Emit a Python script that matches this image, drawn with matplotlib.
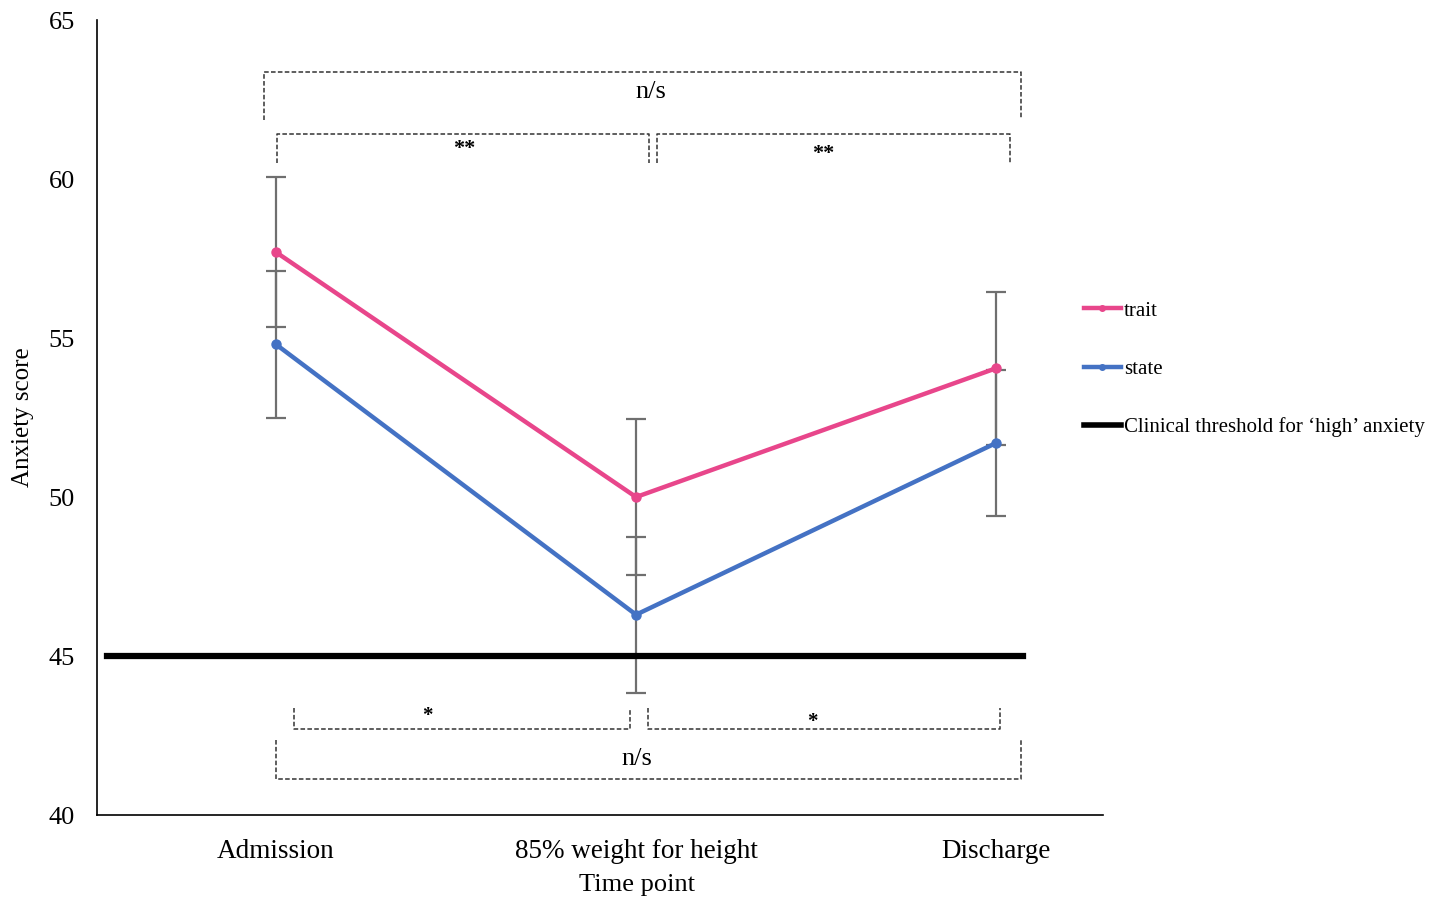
import matplotlib
matplotlib.use("Agg")
import matplotlib.pyplot as plt
from matplotlib.lines import Line2D

plt.rcParams['font.family'] = ['Liberation Serif', 'DejaVu Serif']

# data
time_points = ["Admission", "85% weight for height", "Discharge"]
trait = [57.7, 50.0, 54.05]
trait_err = [2.35, 2.45, 2.4]
state = [54.8, 46.3, 51.7]
state_err = [2.3, 2.45, 2.3]
threshold = 45
y_ticks = [40, 45, 50, 55, 60, 65]

pink = '#E8468B'
blue = '#4472C4'
dash = (0, (3, 1.5))

fig = plt.figure(figsize=(14.4, 8.99), dpi=100)
ax = fig.add_axes([0.0674, 0.0934, 0.6986, 0.8843])

x = list(range(len(time_points)))

ax.errorbar(x, trait, yerr=trait_err, fmt='none', ecolor='#6f6f6f', elinewidth=1.6, capsize=7, capthick=1.6, zorder=2)
ax.errorbar(x, state, yerr=state_err, fmt='none', ecolor='#6f6f6f', elinewidth=1.6, capsize=7, capthick=1.6, zorder=2)
ax.plot(x, trait, color=pink, lw=3.2, marker='o', ms=6.5, zorder=3, label='trait')
ax.plot(x, state, color=blue, lw=3.2, marker='o', ms=6.5, zorder=3, label='state')
ax.plot([-0.469, 2.075], [threshold, threshold], color='black', lw=4.5, zorder=4)

# significance brackets
def bracket(x0, x1, ytop, yl, yr):
    ax.plot([x0, x0, x1, x1], [yl, ytop, ytop, yr], color='#333333', lw=1.1, ls=dash, zorder=1)

bracket(-0.033, 2.07, 63.36, 61.86, 61.92)
bracket(0.003, 1.036, 61.42, 60.5, 60.5)
bracket(1.058, 2.039, 61.42, 60.5, 60.5)
ax.text(1.042, 62.74, "n/s", ha='center', va='center', fontsize=19)
ax.text(0.522, 60.95, "**", ha='center', va='center', fontsize=16, fontweight='bold')
ax.text(1.519, 60.8, "**", ha='center', va='center', fontsize=16, fontweight='bold')

bracket(0.05, 0.983, 42.7, 43.36, 43.36)
bracket(1.033, 2.011, 42.7, 43.36, 43.36)
bracket(0.0, 2.07, 41.13, 42.36, 42.36)
ax.text(0.42, 43.1, "*", ha='center', va='center', fontsize=15, fontweight='bold')
ax.text(1.489, 42.92, "*", ha='center', va='center', fontsize=15, fontweight='bold')
ax.text(1.003, 41.76, "n/s", ha='center', va='center', fontsize=19)

ax.set_xlim(-0.497, 2.297)
ax.set_ylim(40, 65)
ax.set_yticks(y_ticks)
ax.set_xticks(x)
ax.set_xticklabels(time_points, fontsize=19.5)
ax.tick_params(axis='both', length=0)
ax.tick_params(axis='y', labelsize=19, pad=16)
ax.tick_params(axis='x', pad=17)
ax.set_xlabel("Time point", fontsize=19)
ax.xaxis.set_label_coords(0.537, -0.074)
ax.set_ylabel("Anxiety score", fontsize=18)
ax.yaxis.set_label_coords(-0.063, 0.5)
for s in ['top', 'right']:
    ax.spines[s].set_visible(False)
for s in ['left', 'bottom']:
    ax.spines[s].set_linewidth(1.2)

handles = [
    Line2D([], [], color=pink, lw=3.2, marker='o', ms=4),
    Line2D([], [], color=blue, lw=3.2, marker='o', ms=4),
    Line2D([], [], color='black', lw=4),
]
labels = ['trait', 'state', "Clinical threshold for \u2018high\u2019 anxiety"]
ax.legend(handles, labels, loc='upper left', bbox_to_anchor=(0.962, 0.670), frameon=False,
          fontsize=15, labelspacing=1.85, handlelength=1.8, handletextpad=0.15)

fig.savefig("out.png", dpi=100)
